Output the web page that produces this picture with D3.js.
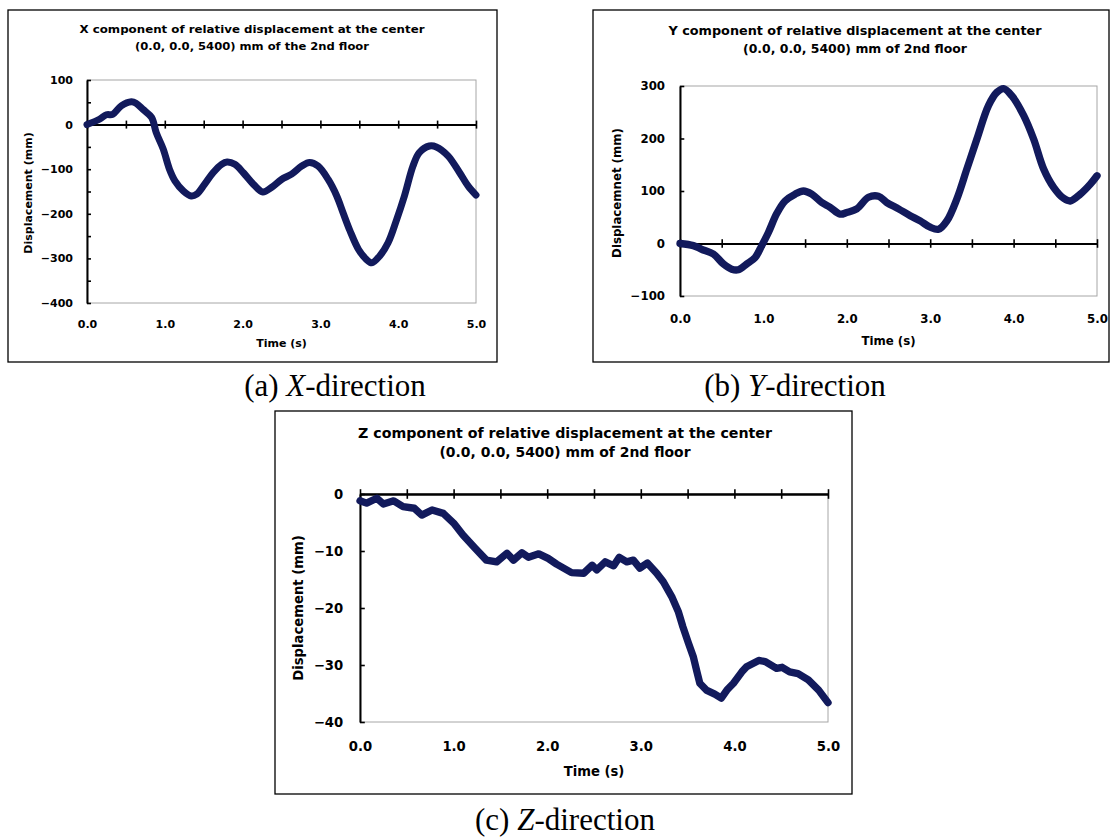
<!DOCTYPE html>
<html>
<head>
<meta charset="utf-8">
<script src="https://cdn.jsdelivr.net/npm/d3@7"></script>
<style>
  body { margin: 0; background: #fff; }
  svg { display: block; }
</style>
</head>
<body>
<svg id="fig" width="1110" height="839"></svg>
<script>
// ---- Data: relative displacement at the 2nd-floor centre (0.0, 0.0, 5400) mm ----
const timeX = [0,0.16,0.25,0.33,0.44,0.57,0.63,0.72,0.83,0.89,0.98,1.06,1.13,1.24,1.34,1.41,1.51,1.62,1.73,1.80,1.90,2.01,2.14,2.26,2.37,2.50,2.63,2.76,2.86,2.97,3.10,3.21,3.29,3.38,3.49,3.59,3.66,3.76,3.87,3.98,4.08,4.19,4.27,4.40,4.49,4.64,4.79,4.90,5.00];
const dispX = [0,12,22,23,42,51,48,34,16,-18,-55,-100,-126,-149,-160,-156,-134,-108,-89,-84,-89,-108,-134,-151,-141,-123,-111,-93,-85,-93,-123,-160,-197,-238,-280,-302,-310,-295,-265,-213,-160,-93,-63,-48,-50,-70,-108,-138,-158];

const timeY = [0,0.16,0.26,0.40,0.52,0.62,0.70,0.80,0.90,0.98,1.06,1.16,1.26,1.38,1.48,1.58,1.70,1.80,1.92,2.00,2.12,2.26,2.38,2.48,2.62,2.76,2.88,3.00,3.10,3.20,3.32,3.44,3.56,3.70,3.80,3.88,3.98,4.12,4.24,4.36,4.48,4.60,4.68,4.80,4.92,5.00];
const dispY = [0,-4,-11,-20,-39,-49,-50,-39,-27,-4,21,57,81,94,100,94,78,69,56,59,66,88,90,78,66,53,43,31,27,43,85,142,199,263,288,295,281,244,199,142,107,86,81,94,113,129];

const timeZ = [0,0.07,0.18,0.25,0.36,0.46,0.58,0.66,0.77,0.89,1.00,1.10,1.23,1.35,1.46,1.57,1.64,1.73,1.80,1.91,2.01,2.10,2.26,2.39,2.48,2.53,2.62,2.71,2.77,2.85,2.92,2.99,3.07,3.17,3.24,3.33,3.40,3.45,3.51,3.56,3.60,3.63,3.70,3.79,3.86,3.92,3.99,4.08,4.13,4.26,4.33,4.45,4.51,4.59,4.68,4.79,4.90,5.00];
const dispZ = [-1.2,-1.6,-0.75,-1.75,-1.2,-2.2,-2.5,-3.7,-2.8,-3.4,-5.1,-7.2,-9.5,-11.6,-11.9,-10.4,-11.6,-10.3,-11.1,-10.5,-11.3,-12.3,-13.8,-13.9,-12.5,-13.3,-11.9,-12.6,-11.1,-11.9,-11.6,-13.0,-12.1,-13.9,-15.4,-18.0,-20.6,-23.3,-26.2,-28.5,-31.2,-33.2,-34.4,-35.1,-35.8,-34.4,-33.2,-31.2,-30.3,-29.2,-29.4,-30.6,-30.4,-31.2,-31.5,-32.6,-34.4,-36.6];

// ---- Axis ticks ----
const timeTicks = [0,0.5,1,1.5,2,2.5,3,3.5,4,4.5,5];
const timeLabelTicks = [0,1,2,3,4,5];
const yTicksX = [-400,-350,-300,-250,-200,-150,-100,-50,0,50,100];
const yLabelTicksX = [-400,-300,-200,-100,0,100];
const yTicksY = [-100,0,100,200,300];
const yTicksZ = [-40,-30,-20,-10,0];

const titlesX = ["X component of relative displacement at the center", "(0.0, 0.0, 5400) mm of the 2nd floor"];
const titlesY = ["Y component of relative displacement at the center", "(0.0, 0.0, 5400) mm of 2nd floor"];
const titlesZ = ["Z component of relative displacement at the center", "(0.0, 0.0, 5400) mm of 2nd floor"];

const svg = d3.select("#fig");
const LINE_COLOR = "#121a5c";
const FONT = "'DejaVu Sans', 'Liberation Sans', sans-serif";
const fmtMinus = v => String(v).replace("-", "\u2212");

function drawPanel(p) {
  const s = p.scale;
  const fs = 11 * s;
  const g = svg.append("g");

  // outer frame
  g.append("rect")
    .attr("x", p.frame[0]).attr("y", p.frame[1])
    .attr("width", p.frame[2] - p.frame[0]).attr("height", p.frame[3] - p.frame[1])
    .attr("fill", "#fff").attr("stroke", "#000").attr("stroke-width", 1.3);

  // title
  p.titles.forEach((t, i) => {
    g.append("text")
      .attr("x", p.titleCx).attr("y", p.titleY[i])
      .attr("text-anchor", "middle")
      .attr("font-family", FONT).attr("font-weight", "bold").attr("font-size", fs)
      .attr("textLength", p.titleW[i]).attr("lengthAdjust", "spacingAndGlyphs")
      .text(t);
  });

  const x = d3.scaleLinear().domain([0, 5]).range([p.plot.left, p.plot.right]);
  const y = d3.scaleLinear().domain(p.yDomain).range([p.plot.bottom, p.plot.top]);

  // plot area border (grey)
  g.append("rect")
    .attr("x", p.plot.left).attr("y", p.plot.top)
    .attr("width", p.plot.right - p.plot.left).attr("height", p.plot.bottom - p.plot.top)
    .attr("fill", "none").attr("stroke", "#a6a6a6").attr("stroke-width", 1);

  // y axis, ticks pointing into the plot
  const yAxis = d3.axisLeft(y)
    .tickValues(p.yTicks)
    .tickSizeInner(-4 * s).tickSizeOuter(0).tickPadding(14 * s)
    .tickFormat(v => p.yLabels.includes(v) ? fmtMinus(v) : "");
  const ya = g.append("g").attr("transform", `translate(${p.plot.left},0)`).call(yAxis);
  ya.select(".domain").attr("stroke", "#000").attr("stroke-width", 2);
  ya.selectAll(".tick line").attr("stroke", "#000").attr("stroke-width", 1.6);
  ya.selectAll(".tick text")
    .attr("font-family", FONT).attr("font-weight", "bold").attr("font-size", fs).attr("fill", "#000");

  // time axis along the zero line, ticks crossing it
  const y0 = y(0);
  const down = d3.axisBottom(x).tickValues(timeTicks).tickSizeInner(4 * s).tickSizeOuter(0).tickFormat("");
  const up = d3.axisTop(x).tickValues(timeTicks).tickSizeInner(4 * s).tickSizeOuter(0).tickFormat("");
  [down, up].forEach(ax => {
    const a = g.append("g").attr("transform", `translate(0,${y0})`).call(ax);
    a.select(".domain").attr("stroke", "#000").attr("stroke-width", 2);
    a.selectAll(".tick line").attr("stroke", "#000").attr("stroke-width", 1.6);
  });

  // time labels below the plot area
  const lab = d3.axisBottom(x).tickValues(timeLabelTicks).tickSize(0).tickPadding(0)
    .tickFormat(d3.format(".1f"));
  const la = g.append("g").attr("transform", `translate(0,${p.xLabelY})`).call(lab);
  la.select(".domain").remove();
  la.selectAll(".tick text")
    .attr("dy", 0)
    .attr("font-family", FONT).attr("font-weight", "bold").attr("font-size", fs).attr("fill", "#000");

  // data line
  const line = d3.line()
    .x(d => x(d[0])).y(d => y(d[1]))
    .curve(p.smooth ? d3.curveCatmullRom.alpha(0.5) : d3.curveLinear);
  g.append("path")
    .datum(d3.zip(p.time, p.values))
    .attr("d", line)
    .attr("fill", "none").attr("stroke", LINE_COLOR)
    .attr("stroke-width", 7 * Math.min(s, 1.05))
    .attr("stroke-linejoin", "round").attr("stroke-linecap", "round");

  // axis titles
  g.append("text")
    .attr("transform", `translate(${p.yTitle[0]},${p.yTitle[1]}) rotate(-90)`)
    .attr("text-anchor", "middle").attr("dominant-baseline", "central")
    .attr("font-family", FONT).attr("font-weight", "bold").attr("font-size", fs)
    .text(p.yTitleText);
  g.append("text")
    .attr("x", (p.plot.left + p.plot.right) / 2).attr("y", p.xTitleY)
    .attr("text-anchor", "middle")
    .attr("font-family", FONT).attr("font-weight", "bold").attr("font-size", fs)
    .text("Time (s)");

  // sub-figure caption
  const cap = svg.append("text")
    .attr("x", p.caption.x).attr("y", p.caption.y)
    .attr("text-anchor", "middle")
    .attr("font-family", "'Liberation Serif', 'Times New Roman', serif")
    .attr("font-size", 31).attr("fill", "#000");
  cap.append("tspan").text(p.caption.tag + " ");
  cap.append("tspan").attr("font-style", "italic").text(p.caption.axis);
  cap.append("tspan").text("-direction");
}

drawPanel({
  scale: 1,
  frame: [8, 10, 497, 362],
  plot: { left: 87, right: 476, top: 80, bottom: 303 },
  yDomain: [-400, 100], yTicks: yTicksX, yLabels: yLabelTicksX,
  titles: titlesX, titleCx: 252, titleY: [33, 50], titleW: [345, 234],
  yTitle: [28, 193], yTitleText: "Displacement (mm)",
  xLabelY: 328, xTitleY: 347,
  time: timeX, values: dispX, smooth: true,
  caption: { x: 335, y: 396, tag: "(a)", axis: "X" }
});

drawPanel({
  scale: 1.07,
  frame: [593, 10, 1109, 362],
  plot: { left: 680, right: 1097, top: 86, bottom: 296 },
  yDomain: [-100, 300], yTicks: yTicksY, yLabels: yTicksY,
  titles: titlesY, titleCx: 855, titleY: [35, 53], titleW: [373, 224],
  yTitle: [617, 193], yTitleText: "Displacemnet (mm)",
  xLabelY: 323, xTitleY: 345,
  time: timeY, values: dispY, smooth: true,
  caption: { x: 795, y: 396, tag: "(b)", axis: "Y" }
});

drawPanel({
  scale: 1.2,
  frame: [275, 411, 852, 794],
  plot: { left: 360, right: 828, top: 494, bottom: 722 },
  yDomain: [-40, 0], yTicks: yTicksZ, yLabels: yTicksZ,
  titles: titlesZ, titleCx: 565, titleY: [438, 457], titleW: [414, 251],
  yTitle: [298, 608], yTitleText: "Displacement (mm)",
  xLabelY: 751, xTitleY: 776,
  time: timeZ, values: dispZ, smooth: false,
  caption: { x: 565, y: 830, tag: "(c)", axis: "Z" }
});
</script>
</body>
</html>
